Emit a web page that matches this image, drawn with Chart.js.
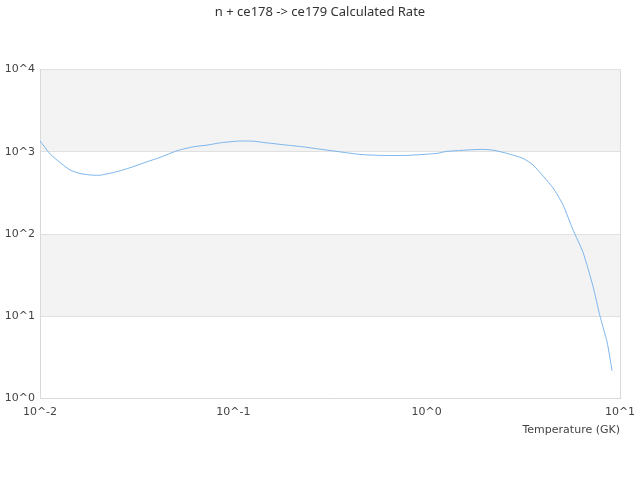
<html>
  <body style="margin:0">
    <script src="https://cdn.jsdelivr.net/npm/chart.js@4.4.0/dist/chart.umd.min.js"></script>
    <div style="width:640px;height:480px"><canvas id="myChart"></canvas></div>
    <script>
      // temperatures (GK) and rates
      var temps = [0.01, 0.0113, 0.0127, 0.0143, 0.0161, 0.0181, 0.0204, 0.025, 0.0303, 0.0358,
        0.0418, 0.0511, 0.0619, 0.0731, 0.0853, 0.1045, 0.1264, 0.149, 0.19, 0.229,
        0.281, 0.356, 0.452, 0.574, 0.791, 1.13, 1.27, 1.89, 2.2, 2.6,
        3.15, 3.55, 4.5, 5.07, 5.71, 6.44, 7.25, 7.88, 8.57, 9.1];
      var rates = [1360, 939, 741, 602, 546, 524, 520, 574, 659, 758,
        857, 1030, 1151, 1207, 1286, 1349, 1349, 1286, 1207, 1151,
        1079, 1000, 931, 906, 906, 958, 1013, 1071, 1050, 958,
        833, 692, 365, 227, 113, 59.8, 23.2, 10.07, 4.89, 2.18];
      var yTicks = [1, 10, 100, 1000, 10000];
      var xTicks = [0.01, 0.1, 1, 10];
      var bands = [[1000, 10000], [10, 100]];

      var points = [];
      for (var i = 0; i < temps.length; i++) {
        points.push({ x: temps[i], y: rates[i] });
      }

      var bandPlugin = {
        id: "bands",
        beforeDraw: function (chart) {
          var ctx = chart.ctx;
          var area = chart.chartArea;
          var y = chart.scales.y;
          ctx.save();
          ctx.fillStyle = "#f3f3f3";
          for (var b of bands) {
            var top = y.getPixelForValue(b[1]);
            var bot = y.getPixelForValue(b[0]);
            ctx.fillRect(area.left, top, area.right - area.left, bot - top);
          }
          ctx.restore();
        }
      };

      function powLabel(v) {
        return "10^" + Math.round(Math.log10(v));
      }

      var ctx = document.getElementById("myChart").getContext("2d");
      var myChart = new Chart(ctx, {
        type: "line",
        data: {
          datasets: [
            {
              label: "rate",
              data: points,
              borderColor: "#7cb5ec",
              borderWidth: 1,
              pointRadius: 0,
              tension: 0.2,
              fill: false
            }
          ]
        },
        options: {
          responsive: true,
          maintainAspectRatio: false,
          animation: false,
          layout: { padding: { left: 0, right: 0, top: 4, bottom: 39 } },
          plugins: {
            legend: { display: false },
            tooltip: { enabled: false },
            title: {
              display: true,
              text: "n + ce178 -> ce179 Calculated Rate",
              color: "#333",
              font: { family: "Noto Sans", size: 13, weight: "normal" },
              padding: { top: 0, bottom: 50 }
            }
          },
          scales: {
            x: {
              type: "logarithmic",
              min: 0.01,
              max: 10,
              afterBuildTicks: function (axis) {
                axis.ticks = xTicks.map(function (v) { return { value: v }; });
              },
              afterFit: function (axis) {
                axis.paddingRight = 20;
              },
              ticks: {
                callback: powLabel,
                color: "#444",
                font: { family: "DejaVu Sans", size: 11 },
                maxRotation: 0,
                padding: 7
              },
              grid: {
                color: function (c) {
                  return c.index === xTicks.length - 1 ? "#d9d9d9" : "rgba(0,0,0,0)";
                },
                drawTicks: false
              },
              border: { color: "#d9d9d9" },
              title: {
                display: true,
                text: "Temperature (GK)",
                align: "end",
                color: "#444",
                font: { family: "DejaVu Sans", size: 11 },
                padding: { top: -2, bottom: 4 }
              }
            },
            y: {
              type: "logarithmic",
              min: 1,
              max: 10000,
              afterBuildTicks: function (axis) {
                axis.ticks = yTicks.map(function (v) { return { value: v }; });
              },
              afterFit: function (axis) {
                axis.width = 40;
              },
              ticks: {
                callback: powLabel,
                color: "#444",
                font: { family: "DejaVu Sans", size: 11 },
                padding: 5
              },
              grid: { color: "#e0e0e0", drawTicks: false },
              border: { color: "#d9d9d9" }
            }
          }
        },
        plugins: [bandPlugin]
      });
    </script>
  </body>
</html>
